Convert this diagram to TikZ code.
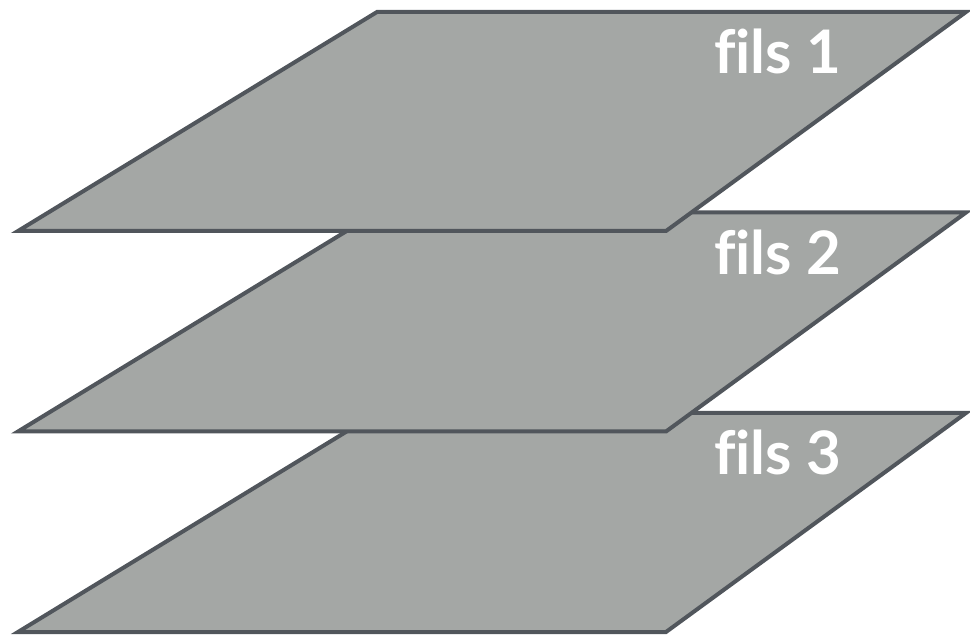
\documentclass[tikz,border=0pt]{standalone}
\usepackage{fontspec}
\setmainfont{Lato}[Ligatures={NoCommon}]
\definecolor{layerfill}{HTML}{A4A7A5}
\definecolor{layeredge}{HTML}{51565C}
\begin{document}
\begin{tikzpicture}[x=1pt,y=-1pt,
  layer/.style={fill=layerfill,draw=layeredge,line width=4pt,line join=miter},
  lbl/.style={anchor=base west,inner sep=0pt,text=white,font=\bfseries\fontsize{60}{60}\selectfont}]
\useasboundingbox (0,0) rectangle (970,636);
\foreach \i/\t in {2/3,1/2,0/1}{
  \begin{scope}[yshift=-200.5*\i pt]
    \draw[layer] (377,12) -- (966,12) -- (666,231) -- (18,231) -- cycle;
    \node[lbl] (fils\t) at (714,74) {fils \t};
  \end{scope}
}
\end{tikzpicture}
\end{document}
